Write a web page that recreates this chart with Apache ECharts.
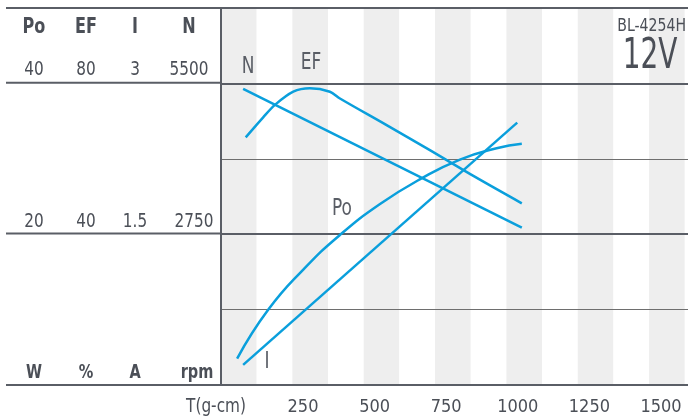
<!DOCTYPE html>
<html><head><meta charset="utf-8">
<script src="https://cdn.jsdelivr.net/npm/echarts@6/dist/echarts.min.js"></script>
<style>html,body{margin:0;padding:0;background:#fff}#c{width:688px;height:419px}</style>
</head><body><div id="c"></div>
<script>
// ---- data ----
const xTickValues = [250, 500, 750, 1000, 1250, 1500];
const poData = [[20, 3.5], [129, 10.0], [251, 15.3], [379, 19.9], [519, 24.0], [664, 27.4], [798, 29.9], [926, 31.4], [1014, 32.0]];
const efData = [[50, 65.7], [111, 71.0], [152, 74.3], [216, 77.8], [274, 78.7], [344, 77.8], [379, 76.0], [536, 69.2], [693, 62.3], [851, 55.2], [1014, 48.2]];
const iData = [[41, 0.2], [998, 2.61]];
const nData = [[41, 5398], [1014, 2869]];
const leftHeaders = ['Po', 'EF', 'I', 'N'];
const leftTopValues = ['40', '80', '3', '5500'];
const leftMidValues = ['20', '40', '1.5', '2750'];
const leftUnits = ['W', '%', 'A', 'rpm'];
const curveLabels = ['N', 'EF', 'Po', 'I'];
const model = 'BL-4254H';
const voltage = '12V';
const xName = 'T(g-cm)';

// ---- style ----
const FF = "'DejaVu Sans Condensed','DejaVu Sans',sans-serif";
const TXT = '#4b4f57';
const DARK = '#5a5e66';
const BLUE = '#0a9fdc';
const colX = [34, 86, 135, 189];

const chart = echarts.init(document.getElementById('c'), null, {renderer: 'canvas'});

const graphic = [];
[8, 82.7, 233.5, 385].forEach(y => graphic.push({type: 'line', shape: {x1: 6, y1: y, x2: 221, y2: y}, style: {stroke: DARK, lineWidth: 2}, z: 5}));
function txt(x, y, s, size, weight, color, align, sx) {
  graphic.push({type: 'text', x: x, y: y, scaleX: sx || 0.85, style: {text: s, fill: color || TXT, font: (weight || 'normal') + ' ' + size + 'px ' + FF, textAlign: align || 'center', textVerticalAlign: 'middle'}, z: 6});
}
leftHeaders.forEach((s, i) => txt(colX[i], 28, s, 21, 'bold'));
leftTopValues.forEach((s, i) => txt(colX[i], 70, s, 20));
leftMidValues.forEach((s, i) => txt(colX[i] + (i === 3 ? 5 : 0), 222, s, 20));
leftUnits.forEach((s, i) => txt(colX[i] + (i === 3 ? 8 : 0), 373, s, 19, 'bold'));
txt(216, 407, xName, 20);
txt(686, 26, model, 18, 'normal', TXT, 'right', 0.87);
txt(650, 57, voltage, 42, 'normal', TXT, 'center', 0.74);
const clPos = [[248, 67], [311, 63], [342, 209], [267, 362]];
curveLabels.forEach((s, i) => txt(clPos[i][0], clPos[i][1], s, 23, 'normal', '#595d65', 'center', 0.82));

const hidden = {axisLine: {show: false}, axisTick: {show: false}, axisLabel: {show: false}, splitLine: {show: false}};

chart.setOption({
  animation: false,
  backgroundColor: '#fff',
  grid: {left: 221, right: 0, top: 8, bottom: 34, containLabel: false},
  xAxis: [
    {type: 'value', min: -36.3, max: 1594.3, axisLine: {show: false}, axisTick: {show: false}, splitLine: {show: false},
     axisLabel: {show: true, customValues: xTickValues, formatter: v => String(v), color: TXT, fontSize: 18, fontFamily: FF, margin: 13}},
    Object.assign({type: 'value', min: 0, max: 13.09, interval: 1, position: 'top', z: 0}, hidden,
     {splitArea: {show: true, areaStyle: {color: ['#eeeeee', '#ffffff']}}})
  ],
  yAxis: [
    {type: 'value', min: 0, max: 50, interval: 10, z: 1, axisLine: {show: true, onZero: false, lineStyle: {color: DARK, width: 2}}, axisTick: {show: false}, axisLabel: {show: false},
     splitLine: {show: true, lineStyle: {color: '#6e6e6e', width: 1}}},
    {type: 'value', min: 0, max: 100, interval: 40, z: 2, axisLine: {show: false}, axisTick: {show: false}, axisLabel: {show: false},
     splitLine: {show: true, lineStyle: {color: DARK, width: 2}}},
    Object.assign({type: 'value', min: 0, max: 3.75}, hidden),
    Object.assign({type: 'value', min: 0, max: 6875}, hidden)
  ],
  series: [
    {name: 'Po', type: 'line', xAxisIndex: 0, yAxisIndex: 0, data: poData, smooth: 0.5, showSymbol: false, lineStyle: {color: BLUE, width: 2.5}, z: 3},
    {name: 'EF', type: 'line', xAxisIndex: 0, yAxisIndex: 1, data: efData, smooth: 0.3, showSymbol: false, lineStyle: {color: BLUE, width: 2.5}, z: 3},
    {name: 'I', type: 'line', xAxisIndex: 0, yAxisIndex: 2, data: iData, showSymbol: false, lineStyle: {color: BLUE, width: 2.5}, z: 3},
    {name: 'N', type: 'line', xAxisIndex: 0, yAxisIndex: 3, data: nData, showSymbol: false, lineStyle: {color: BLUE, width: 2.5}, z: 3}
  ],
  graphic: graphic
});
</script></body></html>
